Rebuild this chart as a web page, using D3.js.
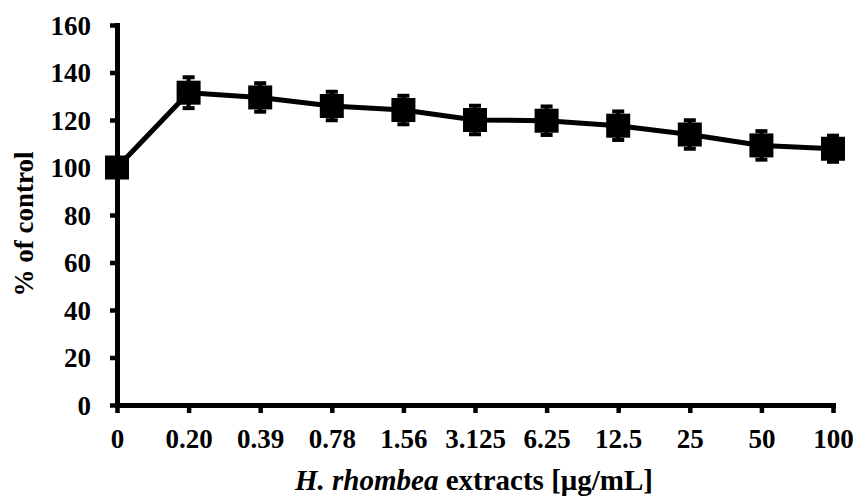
<!DOCTYPE html>
<html>
<head>
<meta charset="utf-8">
<script src="https://cdn.jsdelivr.net/npm/d3@7"></script>
<style>
  body { margin: 0; background: #fff; }
  svg text { font-family: "Liberation Serif", "Times New Roman", serif; font-weight: bold; }
</style>
</head>
<body>
<svg id="chart" width="864" height="497"></svg>
<script>
// concentrations of extract (x categories)
var categories = ["0", "0.20", "0.39", "0.78", "1.56", "3.125", "6.25", "12.5", "25", "50", "100"];
// % of control, mean and error
var values = [100, 131.5, 129.5, 125.9, 124.2, 120.0, 119.7, 117.6, 113.9, 109.3, 107.9];
var errors = [3, 6.5, 6, 6, 6, 6, 6, 6, 6, 6, 5.5];
var yTicks = [0, 20, 40, 60, 80, 100, 120, 140, 160];

var data = categories.map(function(c, i) {
  return { cat: c, val: values[i], err: errors[i] };
});

var svg = d3.select("#chart");

var x = d3.scalePoint()
  .domain(categories)
  .range([117, 833])
  .padding(0);

var y = d3.scaleLinear()
  .domain([0, 160])
  .range([405, 25]);

// axes
var yAxis = svg.append("g")
  .attr("transform", "translate(117,0)")
  .call(d3.axisLeft(y).tickValues(yTicks).tickSize(7).tickSizeOuter(0).tickPadding(19));

var xAxis = svg.append("g")
  .attr("transform", "translate(0,405)")
  .call(d3.axisBottom(x).tickSize(8).tickSizeOuter(0).tickPadding(16));

[yAxis, xAxis].forEach(function(ax) {
  ax.select(".domain").attr("stroke", "#000").attr("stroke-width", 5).attr("stroke-linecap", "square");
  ax.selectAll(".tick line").attr("stroke", "#000").attr("stroke-width", 4.5);
  ax.selectAll(".tick text").attr("fill", "#000").style("font-size", "27px");
});
yAxis.selectAll(".tick text").attr("dy", "0.34em");
xAxis.selectAll(".tick text").attr("dy", "0.71em");

// line
var line = d3.line()
  .x(function(d) { return x(d.cat); })
  .y(function(d) { return y(d.val); });

svg.append("path")
  .datum(data)
  .attr("d", line)
  .attr("fill", "none")
  .attr("stroke", "#000")
  .attr("stroke-width", 5)
  .attr("stroke-linejoin", "round");

// error bars
var eb = svg.append("g").selectAll("g")
  .data(data)
  .enter().append("g");

eb.append("line")
  .attr("x1", function(d) { return x(d.cat); })
  .attr("x2", function(d) { return x(d.cat); })
  .attr("y1", function(d) { return y(d.val + d.err); })
  .attr("y2", function(d) { return y(d.val - d.err); })
  .attr("stroke", "#000")
  .attr("stroke-width", 4);

eb.selectAll(".cap")
  .data(function(d) { return [{ cat: d.cat, v: d.val + d.err }, { cat: d.cat, v: d.val - d.err }]; })
  .enter().append("line")
  .attr("class", "cap")
  .attr("x1", function(d) { return x(d.cat) - 6; })
  .attr("x2", function(d) { return x(d.cat) + 6; })
  .attr("y1", function(d) { return y(d.v); })
  .attr("y2", function(d) { return y(d.v); })
  .attr("stroke", "#000")
  .attr("stroke-width", 4);

// square markers
svg.append("g").selectAll("rect")
  .data(data)
  .enter().append("rect")
  .attr("x", function(d) { return x(d.cat) - 12; })
  .attr("y", function(d) { return y(d.val) - 12; })
  .attr("width", 24)
  .attr("height", 24)
  .attr("fill", "#000");

// axis titles
svg.append("text")
  .attr("transform", "translate(33,224) rotate(-90)")
  .attr("text-anchor", "middle")
  .style("font-size", "27px")
  .text("% of control");

var xt = svg.append("text")
  .attr("x", 474)
  .attr("y", 490)
  .attr("text-anchor", "middle")
  .style("font-size", "29px");
xt.append("tspan").style("font-style", "italic").text("H. rhombea");
xt.append("tspan").text(" extracts [μg/mL]");
</script>
</body>
</html>
